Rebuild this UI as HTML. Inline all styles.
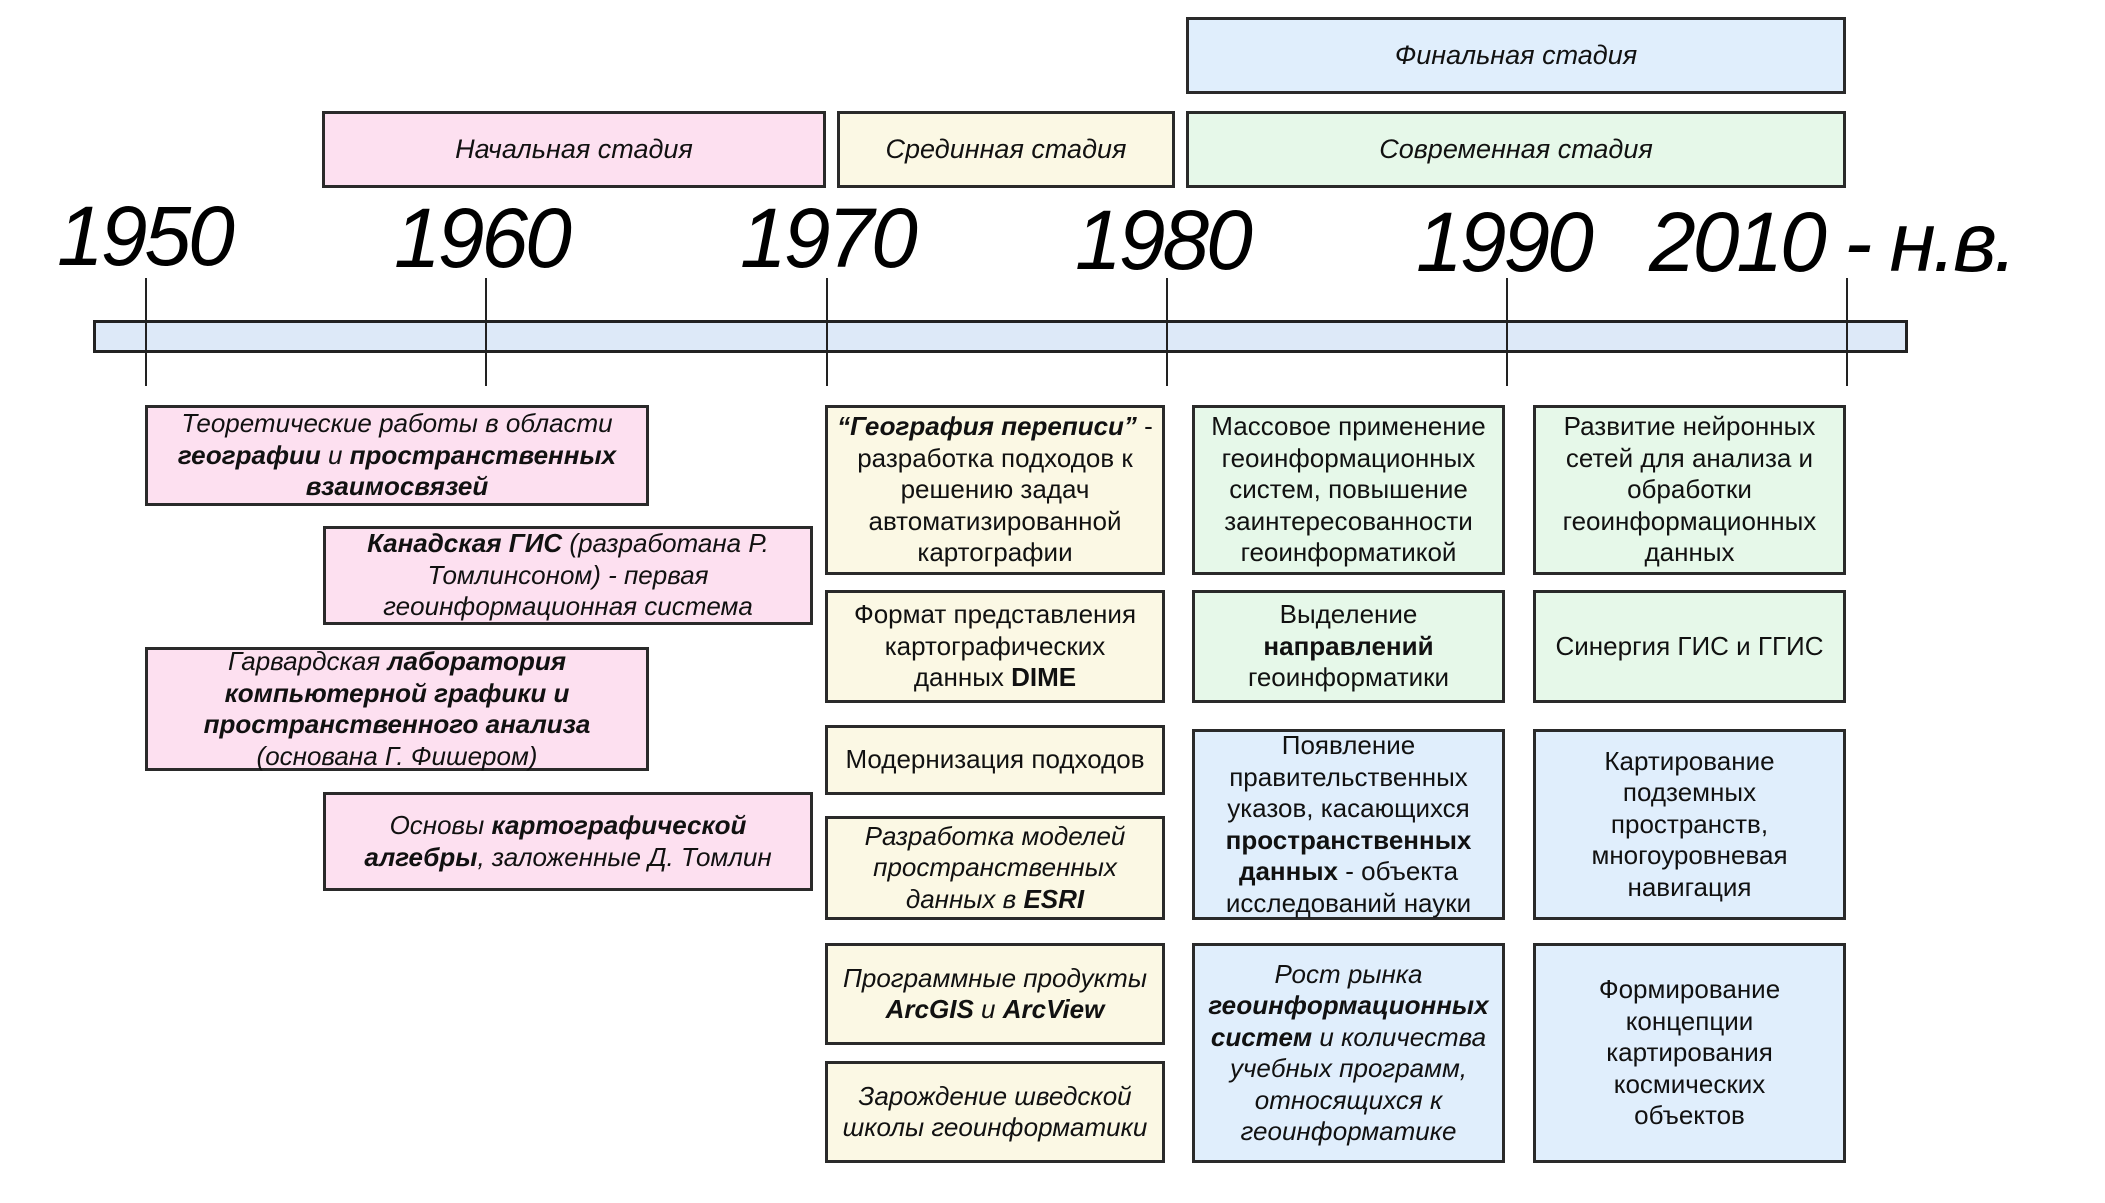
<!DOCTYPE html>
<html><head><meta charset="utf-8"><style>
body{margin:0;width:2105px;height:1203px;background:#fff;position:relative;overflow:hidden;font-family:"Liberation Sans","DejaVu Sans",sans-serif;color:#111}
.b{position:absolute;box-sizing:border-box;border:3px solid #2a2a2a;display:flex;align-items:center;justify-content:center;text-align:center;font-size:26px;line-height:31.5px;padding:0 6px}
.st{font-style:italic;font-size:27px}
.p{background:#fde0f0}.c{background:#fbf8e4}.g{background:#e6f8e9}.u{background:#e0eefc}
.i{font-style:italic}
.y{position:absolute;font-style:italic;font-size:84px;line-height:84px;letter-spacing:-3px;color:#000}
.t{position:absolute;width:2px;background:#222;top:278px;height:108px}
</style></head><body>
<div class="b st u" style="left:1186px;top:17px;width:660px;height:77px">Финальная стадия</div>
<div class="b st p" style="left:322px;top:111px;width:504px;height:77px">Начальная стадия</div>
<div class="b st c" style="left:837px;top:111px;width:338px;height:77px">Срединная стадия</div>
<div class="b st g" style="left:1186px;top:111px;width:660px;height:77px">Современная стадия</div>

<div class="y" style="left:57px;top:194px">1950</div>
<div class="y" style="left:394px;top:196px">1960</div>
<div class="y" style="left:740px;top:196px">1970</div>
<div class="y" style="left:1075px;top:198px">1980</div>
<div class="y" style="left:1416px;top:200px">1990</div>
<div class="y" style="left:1649px;top:200px">2010 - н.в.</div>

<div style="position:absolute;left:93px;top:320px;width:1815px;height:33px;box-sizing:border-box;border:3px solid #222;background:#dde9f8"></div>
<div class="t" style="left:145px"></div><div class="t" style="left:485px"></div><div class="t" style="left:826px"></div>
<div class="t" style="left:1166px"></div><div class="t" style="left:1506px"></div><div class="t" style="left:1846px"></div>

<div class="b p i" style="left:145px;top:405px;width:504px;height:101px"><div>Теоретические работы в области <b>географии</b> и <b>пространственных взаимосвязей</b></div></div>
<div class="b p i" style="left:323px;top:526px;width:490px;height:99px"><div><b>Канадская ГИС</b> (разработана Р. Томлинсоном) - первая геоинформационная система</div></div>
<div class="b p i" style="left:145px;top:647px;width:504px;height:124px"><div>Гарвардская <b>лаборатория компьютерной графики и пространственного анализа</b> (основана Г. Фишером)</div></div>
<div class="b p i" style="left:323px;top:792px;width:490px;height:99px;padding:0 20px"><div>Основы <b>картографической алгебры</b>, заложенные Д. Томлин</div></div>

<div class="b c" style="left:825px;top:405px;width:340px;height:170px"><div><b><i>“География переписи”</i></b> - разработка подходов к решению задач автоматизированной картографии</div></div>
<div class="b c" style="left:825px;top:590px;width:340px;height:113px;padding:0 14px"><div>Формат представления картографических данных <b>DIME</b></div></div>
<div class="b c" style="left:825px;top:725px;width:340px;height:70px"><div>Модернизация подходов</div></div>
<div class="b c i" style="left:825px;top:816px;width:340px;height:104px"><div>Разработка моделей пространственных данных в <b>ESRI</b></div></div>
<div class="b c i" style="left:825px;top:943px;width:340px;height:102px"><div>Программные продукты <b>ArcGIS</b> и <b>ArcView</b></div></div>
<div class="b c i" style="left:825px;top:1061px;width:340px;height:102px"><div>Зарождение шведской школы геоинформатики</div></div>

<div class="b g" style="left:1192px;top:405px;width:313px;height:170px;padding:0 2px"><div>Массовое применение геоинформационных систем, повышение заинтересованности геоинформатикой</div></div>
<div class="b g" style="left:1192px;top:590px;width:313px;height:113px"><div>Выделение <b>направлений</b> геоинформатики</div></div>
<div class="b u" style="left:1192px;top:729px;width:313px;height:191px"><div>Появление правительственных указов, касающихся <b>пространственных данных</b> - объекта исследований науки</div></div>
<div class="b u i" style="left:1192px;top:943px;width:313px;height:220px"><div>Рост рынка <b>геоинформационных систем</b> и количества учебных программ, относящихся к геоинформатике</div></div>

<div class="b g" style="left:1533px;top:405px;width:313px;height:170px"><div>Развитие нейронных сетей для анализа и обработки геоинформационных данных</div></div>
<div class="b g" style="left:1533px;top:590px;width:313px;height:113px"><div>Синергия ГИС и ГГИС</div></div>
<div class="b u" style="left:1533px;top:729px;width:313px;height:191px;padding:0 30px"><div>Картирование подземных пространств, многоуровневая навигация</div></div>
<div class="b u" style="left:1533px;top:943px;width:313px;height:220px;padding:0 40px"><div>Формирование концепции картирования космических объектов</div></div>
</body></html>
